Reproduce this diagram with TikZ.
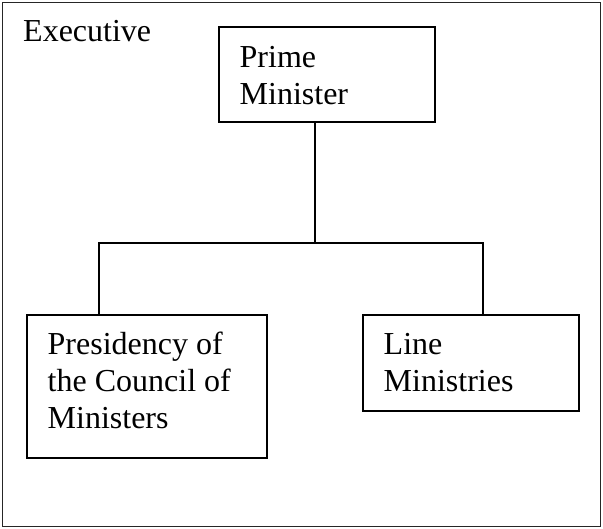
\documentclass[tikz,border=0pt]{standalone}
\usepackage{fontspec}
\setmainfont{Liberation Serif}
\begin{document}
\begin{tikzpicture}[x=1pt,y=-1pt,
  frame/.style={draw=black!85,line width=1.4pt},
  unitbox/.style={draw=black,line width=1.8pt,rectangle,inner sep=0pt,outer sep=0pt,anchor=north west},
  caption/.style={anchor=base west,inner sep=0pt,align=left,
    font=\fontsize{32}{36.8}\selectfont},
  link/.style={draw=black,line width=1.8pt}]
  \useasboundingbox (0,0) rectangle (603,529);
  % surrounding frame
  \draw[frame] (2.5,2.5) rectangle (600.5,526.5);
  \node[caption] (exec) at (23,42) {Executive};

  % units
  \node[unitbox,minimum width=216pt,minimum height=95pt] (pm) at (219,27) {};
  \node[unitbox,minimum width=240pt,minimum height=143pt] (pcm) at (27,315) {};
  \node[unitbox,minimum width=216pt,minimum height=96pt] (lm) at (363,315) {};

  % unit names (positioned by the baseline of their last line)
  \node[caption] (pmtext) at (239.5,104.8) {Prime\\Minister};
  \node[caption] (pcmtext) at (47.5,428.6) {Presidency of\\the Council of\\Ministers};
  \node[caption] (lmtext) at (383.5,391.8) {Line\\Ministries};

  % connectors
  \coordinate (jc) at (315,243);
  \coordinate (jl) at (99,243);
  \coordinate (jr) at (483,243);
  \draw[link] (pm.south -| jc) -- (jc);
  \draw[link] (pcm.north -| jl) -- (jl) -- (jr) -- (lm.north -| jr);
\end{tikzpicture}
\end{document}
